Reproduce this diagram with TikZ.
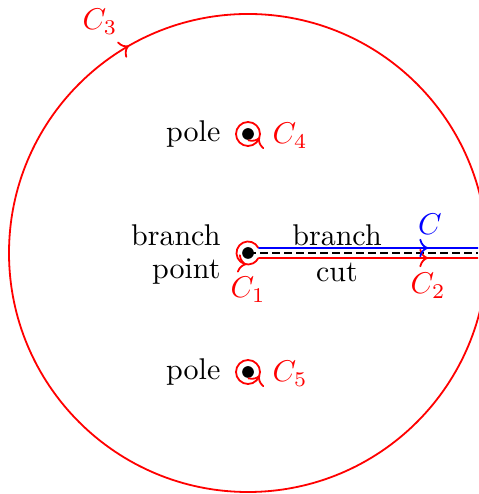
\documentclass[tikz,border=0pt]{standalone}
\usetikzlibrary{arrows.meta,decorations.markings,calc}
\begin{document}
\begin{tikzpicture}[x=0.3333pt,y=0.3333pt,
  cline/.style={line width=0.6pt},
  arrowat/.style 2 args={postaction={decorate},decoration={markings,mark=at position #1 with {\arrow{#2}}}},
  dot/.style={circle,fill=black,inner sep=0pt,minimum size=3.9pt},
  lbl/.style={inner sep=0pt}]
\useasboundingbox (0,0) rectangle (478,494);
% key points
\coordinate (c3) at (248,241);
\node[dot] (bp) at (248,241) {};
\node[dot] (p1) at (248,360) {};
\node[dot] (p2) at (248,122) {};
\coordinate (bpu) at ($(bp)+(26:11.5)$);
\coordinate (bpd) at ($(bp)+(-26:11.5)$);
\coordinate (eu) at (478,246);
\coordinate (ed) at (478,236);
\coordinate (em) at (478,241);
\coordinate (p1a) at ($(p1)+(-40:12)$);
\coordinate (p1b) at ($(p1)+(-16:12)$);
\coordinate (p2a) at ($(p2)+(-40:12)$);
\coordinate (p2b) at ($(p2)+(-16:12)$);
% big circle C3
\draw[red,cline,arrowat={0.667}{To}] ($(c3)+(0:239)$) arc[start angle=0,end angle=-360,radius=239];
% branch cut
\draw[black,cline,dash pattern=on 2.6pt off 1.4pt] (bp.center) -- (em);
% C1
\draw[red,cline,arrowat={0.77}{To}] (bpu) arc[start angle=26,end angle=334,radius=11.5];
% C2
\draw[red,cline,arrowat={0.773}{To}] (bpd) -- (ed);
% C
\draw[blue,cline,arrowat={0.773}{To}] (bpu) -- (eu);
% pole circles
\draw[red,cline] (p1.center) circle[radius=12];
\draw[red,cline,-{To}] (p1a) -- (p1b);
\draw[red,cline] (p2.center) circle[radius=12];
\draw[red,cline,-{To}] (p2a) -- (p2b);
% labels
\node[lbl,red] (lc3) at (100,472) {$C_3$};
\node[lbl,red,anchor=west] (lc4) at (272,358) {$C_4$};
\node[lbl,red,anchor=west] (lc5) at (272,120) {$C_5$};
\node[lbl,red] (lc1) at (248,204) {$C_1$};
\node[lbl,red] (lc2) at (428,208) {$C_2$};
\node[lbl,blue] (lc) at (430,270) {$C$};
\node[lbl,anchor=east] (pole1) at (221,360) {pole};
\node[lbl,anchor=east] (pole2) at (221,122) {pole};
\node[lbl,anchor=east] (bpt1) at (221,259) {branch};
\node[lbl,anchor=east] (bpt2) at (221,222) {point};
\node[lbl] (bc1) at (337,259) {branch};
\node[lbl] (bc2) at (337,222) {cut};
\end{tikzpicture}
\end{document}
